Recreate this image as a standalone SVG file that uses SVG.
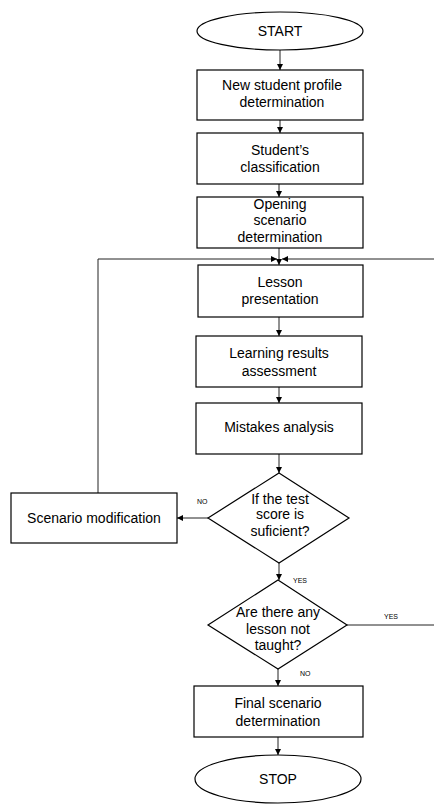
<svg xmlns="http://www.w3.org/2000/svg" width="434" height="804" viewBox="0 0 434 804">
  <style>
    .shape { fill: #ffffff; stroke: #000000; stroke-width: 1.2; }
    .label { font-family: "Liberation Sans", Arial, sans-serif; font-size: 14px; fill: #000000; text-anchor: middle; }
    .tag { font-family: "Liberation Sans", Arial, sans-serif; font-size: 7px; fill: #000000; }
    .link { fill: none; stroke: #222222; stroke-width: 1; }
  </style>
  <defs>
    <marker id="arrow" viewBox="0 0 10 10" refX="10" refY="5" markerWidth="6" markerHeight="6" markerUnits="userSpaceOnUse" orient="auto">
      <path d="M0,0 L10,5 L0,10 z" fill="#000000"/>
    </marker>
  </defs>

  <rect width="434" height="804" fill="#ffffff"/>

  <g id="connectors">
    <line class="link" x1="280" y1="50" x2="280" y2="70" marker-end="url(#arrow)"/>
    <line class="link" x1="280" y1="120" x2="280" y2="133" marker-end="url(#arrow)"/>
    <line class="link" x1="279" y1="184" x2="279" y2="197" marker-end="url(#arrow)"/>
    <line class="link" x1="279" y1="248" x2="279" y2="265" marker-end="url(#arrow)"/>
    <line class="link" x1="279" y1="317" x2="279" y2="336" marker-end="url(#arrow)"/>
    <line class="link" x1="279" y1="387" x2="279" y2="403" marker-end="url(#arrow)"/>
    <line class="link" x1="279" y1="454" x2="279" y2="473" marker-end="url(#arrow)"/>
    <line class="link" x1="279" y1="563" x2="279" y2="580" marker-end="url(#arrow)"/>
    <line class="link" x1="278" y1="669" x2="278" y2="686" marker-end="url(#arrow)"/>
    <line class="link" x1="278" y1="737" x2="278" y2="755" marker-end="url(#arrow)"/>
    <!-- NO branch to scenario modification -->
    <line class="link" x1="208" y1="518" x2="177" y2="518" marker-end="url(#arrow)"/>
    <!-- loop back from scenario modification -->
    <polyline class="link" points="98,493 98,259 277,259" marker-end="url(#arrow)"/>
    <!-- YES branch leaving to the right and returning at the top -->
    <line class="link" x1="347" y1="625" x2="440" y2="625"/>
    <line class="link" x1="440" y1="259" x2="282" y2="259" marker-end="url(#arrow)"/>
    <text class="tag" x="197" y="504">NO</text>
    <text class="tag" x="293" y="583">YES</text>
    <text class="tag" x="384" y="619">YES</text>
    <text class="tag" x="300" y="676">NO</text>
  </g>

  <g id="start">
    <ellipse class="shape" cx="280" cy="31" rx="83" ry="19"/>
    <text class="label" x="280" y="36">START</text>
  </g>

  <g id="profile">
    <rect class="shape" x="197" y="70" width="166" height="50"/>
    <text class="label" x="282" y="90">New student profile</text>
    <text class="label" x="282" y="107">determination</text>
  </g>

  <g id="classification">
    <rect class="shape" x="197" y="133" width="166" height="51"/>
    <text class="label" x="280" y="155">Student’s</text>
    <text class="label" x="280" y="172">classification</text>
  </g>

  <g id="opening">
    <rect class="shape" x="197" y="197" width="166" height="51"/>
    <text class="label" x="280" y="209">Opening</text>
    <text class="label" x="280" y="225">scenario</text>
    <text class="label" x="280" y="242">determination</text>
  </g>

  <g id="lesson">
    <rect class="shape" x="198" y="265" width="165" height="52"/>
    <text class="label" x="280" y="287">Lesson</text>
    <text class="label" x="280" y="304">presentation</text>
  </g>

  <g id="assessment">
    <rect class="shape" x="196" y="336" width="166" height="51"/>
    <text class="label" x="279" y="358">Learning results</text>
    <text class="label" x="279" y="376">assessment</text>
  </g>

  <g id="mistakes">
    <rect class="shape" x="196" y="403" width="166" height="51"/>
    <text class="label" x="279" y="432">Mistakes analysis</text>
  </g>

  <g id="score-check">
    <polygon class="shape" points="279,473 349,518 279,563 208,518"/>
    <text class="label" x="280" y="504">If the test</text>
    <text class="label" x="280" y="519">score is</text>
    <text class="label" x="280" y="536">suficient?</text>
  </g>

  <g id="scenario-modification">
    <rect class="shape" x="11" y="493" width="166" height="50"/>
    <text class="label" x="94" y="523">Scenario modification</text>
  </g>

  <g id="lessons-left">
    <polygon class="shape" points="278,580 347,625 278,669 208,625"/>
    <text class="label" x="278" y="617">Are there any</text>
    <text class="label" x="278" y="634">lesson not</text>
    <text class="label" x="278" y="650">taught?</text>
  </g>

  <g id="final">
    <rect class="shape" x="194" y="686" width="169" height="51"/>
    <text class="label" x="278" y="708">Final scenario</text>
    <text class="label" x="278" y="726">determination</text>
  </g>

  <g id="stop">
    <ellipse class="shape" cx="278" cy="779" rx="83" ry="24"/>
    <text class="label" x="278" y="784">STOP</text>
  </g>
</svg>
